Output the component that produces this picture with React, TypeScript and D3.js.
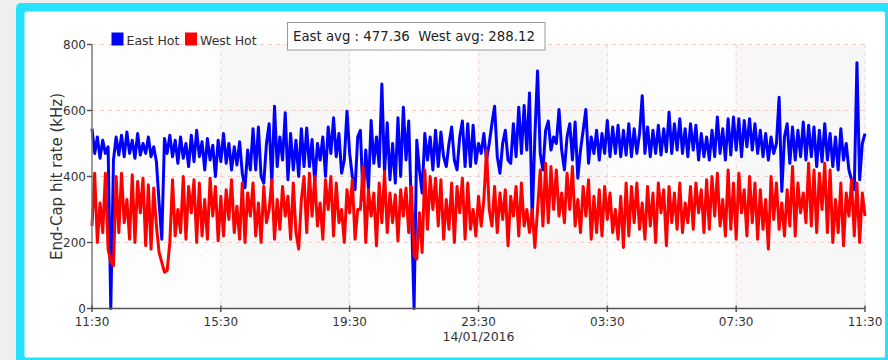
import React from 'react';
import * as d3 from 'd3';

// One reading every 5 minutes over 24 hours, starting 13/01/2016 11:30
const START = new Date(2016, 0, 13, 11, 30);
const STEP_MIN = 5;

const east = [
  545, 470, 520, 455, 510, 470, 490, 0, 450, 520,
  465, 525, 460, 535, 470, 510, 455, 530, 465, 500,
  470, 520, 460, 490, 445, 320, 210, 515, 470, 525,
  460, 510, 440, 520, 455, 500, 430, 525, 445, 540,
  460, 505, 420, 515, 450, 495, 400, 510, 445, 530,
  440, 500, 420, 490, 435, 505, 410, 366, 480, 420,
  545, 420, 550, 400, 380, 500, 560, 380, 613, 430,
  520, 450, 593, 390, 530, 420, 510, 400, 545, 430,
  547, 430, 512, 380, 500, 450, 520, 400, 550, 470,
  578, 460, 530, 410, 450, 598, 470, 400, 360, 520,
  540, 330, 480, 360, 570, 440, 520, 430, 680, 410,
  563, 390, 500, 380, 578, 400, 610, 450, 568, 300,
  0, 510, 420, 350, 530, 450, 520, 420, 540, 430,
  535, 460, 430, 500, 550, 450, 420, 520, 568, 430,
  560, 430, 555, 440, 500, 470, 530, 450, 500, 560,
  613, 460, 410, 500, 540, 450, 440, 560, 460, 610,
  470, 615, 480, 653, 270, 520, 720, 470, 420, 540,
  568, 480, 520, 500, 603, 480, 420, 520, 560, 450,
  565, 395, 480, 540, 603, 440, 520, 470, 540, 450,
  530, 470, 570, 460, 550, 470, 555, 460, 540, 465,
  560, 460, 545, 470, 530, 645, 470, 550, 460, 540,
  470, 555, 465, 545, 475, 595, 470, 560, 480, 575,
  470, 545, 460, 560, 480, 555, 450, 530, 460, 520,
  450, 540, 460, 580, 470, 545, 450, 575, 465, 580,
  480, 575, 460, 570, 490, 575, 480, 560, 470, 540,
  460, 530, 450, 520, 470, 500, 640, 355, 520, 560,
  440, 550, 450, 540, 460, 565, 450, 555, 460, 550,
  430, 540, 445, 560, 450, 530, 430, 520, 420, 545,
  450, 500, 420, 390, 360, 745, 390, 500, 530,
];

const west = [
  250, 410, 200, 320, 230, 410, 180, 140, 130, 400,
  230, 410, 260, 330, 210, 405, 200, 385, 290, 395,
  190, 375, 180, 365, 250, 170, 140, 110, 115, 200,
  390, 220, 300, 230, 400, 210, 370, 290, 390, 200,
  380, 220, 330, 210, 395, 280, 370, 205, 340, 220,
  360, 270, 390, 230, 310, 210, 380, 200, 350, 280,
  380, 220, 320, 200, 370, 260, 300, 390, 210, 330,
  240, 370, 280, 340, 210, 380, 230, 180, 330, 400,
  230, 410, 280, 400, 250, 320, 210, 390, 300, 400,
  220, 380, 260, 300, 200, 360, 290, 390, 210, 300,
  300, 430, 200, 360, 280, 350, 190, 380, 260, 415,
  230, 350, 260, 345, 205, 360, 280, 365, 230, 370,
  160, 150, 290, 170, 420, 240, 400, 300, 395, 250,
  390, 210, 330, 240, 380, 200, 370, 290, 395, 210,
  380, 240, 300, 220, 340, 250, 330, 480, 300, 250,
  370, 230, 350, 270, 360, 190, 340, 280, 370, 220,
  380, 250, 300, 230, 300, 185, 300, 420, 250, 440,
  260, 430, 300, 420, 280, 350, 260, 410, 300, 430,
  250, 330, 230, 370, 280, 390, 210, 340, 230, 360,
  220, 370, 270, 350, 230, 300, 210, 340, 185, 380,
  220, 370, 260, 380, 240, 320, 210, 370, 250, 350,
  200, 380, 290, 360, 190, 370, 260, 350, 240, 380,
  230, 320, 260, 370, 240, 380, 290, 360, 230, 390,
  240, 400, 280, 410, 250, 330, 220, 420, 240, 380,
  210, 410, 290, 360, 220, 400, 260, 380, 210, 360,
  240, 330, 180, 400, 270, 380, 240, 320, 220, 360,
  250, 430, 220, 380, 290, 350, 260, 440, 250, 420,
  230, 410, 300, 440, 230, 420, 200, 330, 230, 380,
  190, 350, 280, 390, 220, 380, 200, 350, 280,
];

const yTicks = [0, 200, 400, 600, 800];
const xTickLabels = ['11:30', '15:30', '19:30', '23:30', '03:30', '07:30', '11:30'];
const dateLabel = '14/01/2016';
const seriesNames = ['East Hot', 'West Hot'];
const seriesColors = ['#0000ff', '#ff0000'];
const avgText = 'East avg : 477.36  West avg: 288.12';
const yTitle = 'End-Cap hit rate (kHz)';

const FONT = '"DejaVu Sans", Verdana, sans-serif';

export default function App() {
  const W = 888;
  const H = 360;
  const plot = { left: 92, right: 865, top: 44.5, bottom: 308.5 };

  const end = d3.timeMinute.offset(START, 24 * 60);
  const x = d3.scaleTime().domain([START, end]).range([plot.left, plot.right]);
  const y = d3.scaleLinear().domain([0, 800]).range([plot.bottom, plot.top]);

  const tickDates = xTickLabels.map((_, k) => d3.timeHour.offset(START, 4 * k));

  const toPoints = (vals: number[]) =>
    vals.map((v, i) => ({ t: d3.timeMinute.offset(START, i * STEP_MIN), v }));

  const line = d3
    .line<{ t: Date; v: number }>()
    .x((d) => x(d.t))
    .y((d) => y(d.v));

  const eastPath = line(toPoints(east)) || '';
  const westPath = line(toPoints(west)) || '';

  return (
    <svg
      width={W}
      height={H}
      style={{ position: 'absolute', left: 0, top: 0, fontFamily: FONT }}
    >
      {/* page backdrop and frame */}
      <rect x={0} y={0} width={W} height={H} fill="#efefef" />
      <rect x={16} y={3} width={900} height={400} rx={5} fill="#26e2fe" />
      <rect x={24.5} y={11.5} width={860.5} height={346} rx={2} fill="#ffffff" />

      {/* plot background bands */}
      {tickDates.slice(0, -1).map((d, k) => (
        <rect
          key={'band' + k}
          x={x(d)}
          y={plot.top}
          width={x(tickDates[k + 1]) - x(d)}
          height={plot.bottom - plot.top}
          fill={k % 2 === 0 ? '#fdfdfd' : '#f7f7f7'}
        />
      ))}

      {/* grid */}
      {yTicks.slice(1).map((v) => (
        <line
          key={'gy' + v}
          x1={plot.left}
          x2={plot.right}
          y1={y(v)}
          y2={y(v)}
          stroke="#f6cccc"
          strokeWidth={1}
          strokeDasharray="4,4"
        />
      ))}
      {tickDates.slice(1).map((d, k) => (
        <line
          key={'gx' + k}
          x1={x(d)}
          x2={x(d)}
          y1={plot.top}
          y2={plot.bottom}
          stroke="#f6cccc"
          strokeWidth={1}
          strokeDasharray="4,4"
        />
      ))}

      {/* series: East first, West on top */}
      <path d={eastPath} fill="none" stroke={seriesColors[0]} strokeWidth={3} strokeLinejoin="round" />
      <path d={westPath} fill="none" stroke={seriesColors[1]} strokeWidth={3} strokeLinejoin="round" />

      {/* y axis */}
      <line x1={plot.left} x2={plot.left} y1={plot.top} y2={plot.bottom} stroke="#7a7a7a" strokeWidth={1.5} />
      {yTicks.map((v) => (
        <g key={'yt' + v}>
          <line x1={plot.left - 5} x2={plot.left} y1={y(v)} y2={y(v)} stroke="#555" strokeWidth={1.5} />
          <text x={plot.left - 6} y={y(v) + 4.5} fontSize={12} textAnchor="end" fill="#333">
            {v}
          </text>
        </g>
      ))}
      <text
        transform={`translate(62,${(plot.top + plot.bottom) / 2}) rotate(-90)`}
        fontSize={15}
        textAnchor="middle"
        fill="#333"
      >
        {yTitle}
      </text>

      {/* x axis */}
      <line x1={plot.left} x2={plot.right} y1={plot.bottom} y2={plot.bottom} stroke="#555" strokeWidth={1.5} />
      {tickDates.map((d, k) => (
        <g key={'xt' + k}>
          <line x1={x(d)} x2={x(d)} y1={plot.bottom - 3} y2={plot.bottom + 3.5} stroke="#555" strokeWidth={1.5} />
          <text x={x(d)} y={plot.bottom + 17} fontSize={12} textAnchor="middle" fill="#333">
            {xTickLabels[k]}
          </text>
        </g>
      ))}
      <text x={x(tickDates[3])} y={plot.bottom + 32} fontSize={12.5} textAnchor="middle" fill="#333">
        {dateLabel}
      </text>

      {/* legend */}
      {seriesNames.map((name, k) => {
        const lx = k === 0 ? 111.5 : 185;
        return (
          <g key={'lg' + k}>
            <rect x={lx} y={32.5} width={12} height={13} fill={seriesColors[k]} />
            <text x={lx + 15} y={45} fontSize={12.5} fill="#333">
              {name}
            </text>
          </g>
        );
      })}

      {/* averages box */}
      <rect x={287.5} y={22.5} width={257.5} height={27.5} fill="#ffffff" stroke="#999" strokeWidth={1} />
      <text x={293} y={41} fontSize={13.3} fill="#222" style={{ whiteSpace: 'pre' }}>
        {avgText}
      </text>
    </svg>
  );
}
